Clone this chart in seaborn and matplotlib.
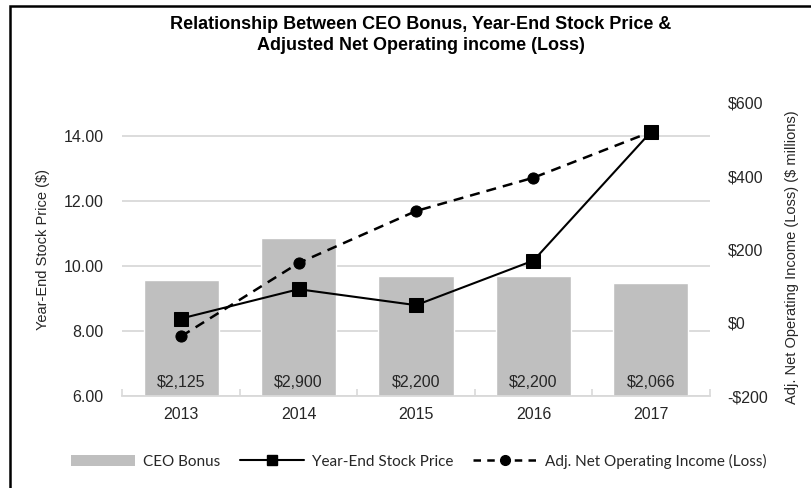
import numpy as np
import pandas as pd
import seaborn as sns
import matplotlib.pyplot as plt
from matplotlib.ticker import MultipleLocator, FuncFormatter
from matplotlib.patches import Rectangle, Patch
from matplotlib.lines import Line2D

years = ["2013", "2014", "2015", "2016", "2017"]
bonus = [2125, 2900, 2200, 2200, 2066]          # CEO bonus ($ thousands)
stock_price = [8.38, 9.28, 8.79, 10.16, 14.11]  # year-end stock price ($)
net_income = [-37, 163, 305, 396, 521]          # adj. net operating income ($ millions)

df = pd.DataFrame({"year": years, "pos": range(len(years)),
                   "bonus": bonus, "stock": stock_price, "income": net_income})

sns.set_theme(style="white")
plt.rcParams['font.family'] = ['Liberation Sans Narrow', 'Liberation Sans', 'DejaVu Sans']
txt = '#262626'
grid_c = '#d9d9d9'

fig = plt.figure(figsize=(8.11, 4.88), dpi=100)
axb = fig.add_axes([0.151, 0.1885, 0.724, 0.6005])
ax2 = axb.twinx()
ax = axb.twinx()

# bars on a hidden axis (bottom layer, carries the gridlines)
bonus_top = 5375
sns.barplot(data=df, x="year", y="bonus", color="#bfbfbf", saturation=1,
            width=0.64, errorbar=None, ax=axb)
axb.set_ylim(0, bonus_top)
axb.yaxis.set_major_locator(MultipleLocator(bonus_top * 2 / 9))
axb.grid(axis='y', color=grid_c, lw=1.3)
axb.set_axisbelow(True)
axb.tick_params(axis='y', left=False, labelleft=False)
axb.set_xlabel("")
axb.set_ylabel("")
for s in ['top', 'right', 'left']:
    axb.spines[s].set_visible(False)
axb.spines['bottom'].set_color(grid_c)
axb.spines['bottom'].set_linewidth(1.3)
axb.set_xticks(np.arange(-0.5, len(years), 1), minor=True)
axb.tick_params(axis='x', which='minor', bottom=True, direction='in', length=5,
                color=grid_c, width=1.2)
axb.tick_params(axis='x', which='major', length=0, pad=8, labelsize=11.5, labelcolor=txt)
for i, b in enumerate(bonus):
    axb.text(i, 0.045, f"${b:,}", transform=axb.get_xaxis_transform(),
             ha='center', va='center', fontsize=11.5, color=txt)

# net operating income (right axis, dashed)
sns.lineplot(data=df, x="pos", y="income", ax=ax2, color="black", marker="o",
             markersize=8, markeredgecolor="black", linewidth=1.8)
ax2.lines[0].set_dashes([4, 2.8])
ax2.set_ylim(-200, 600)
ax2.yaxis.set_major_locator(MultipleLocator(200))
ax2.yaxis.set_major_formatter(FuncFormatter(lambda v, p: f"-${abs(v):.0f}" if v < 0 else f"${v:.0f}"))
ax2.tick_params(axis='y', right=False, length=0, pad=13, labelsize=11.5, labelcolor=txt)
ax2.set_ylabel("Adj. Net Operating Income (Loss) ($ millions)", fontsize=10.5, color=txt)
ax2.yaxis.set_label_coords(1.128, 0.475)
ax2.set_xlabel("")

# year-end stock price (left axis, solid)
sns.lineplot(data=df, x="pos", y="stock", ax=ax, color="black", marker="s",
             markersize=9.5, markeredgecolor="black", linewidth=1.5)
ax.yaxis.tick_left()
ax.yaxis.set_label_position('left')
ax.set_ylim(6, 15)
ax.set_yticks([6, 8, 10, 12, 14])
ax.yaxis.set_major_formatter(FuncFormatter(lambda v, p: f"{v:.2f}"))
ax.tick_params(axis='y', left=False, right=False, length=0, pad=13.5, labelsize=11.5, labelcolor=txt)
ax.set_ylabel("Year-End Stock Price ($)", fontsize=10.5, color=txt)
ax.yaxis.set_label_coords(-0.124, 0.5)
ax.set_xlabel("")

for a in (ax, ax2):
    a.patch.set_visible(False)
    for s in a.spines.values():
        s.set_visible(False)
axb.set_zorder(0)
ax2.set_zorder(1)
ax.set_zorder(2)
axb.set_xlim(-0.5, len(years) - 0.5)

fig.text(0.519, 0.928,
         "Relationship Between CEO Bonus, Year-End Stock Price &\nAdjusted Net Operating income (Loss)",
         ha='center', va='center', fontsize=13, fontweight='bold', color='black',
         linespacing=1.35)

handles = [
    Patch(facecolor="#bfbfbf", edgecolor="none"),
    Line2D([], [], color="black", lw=1.5, marker="s", markersize=7.5),
    Line2D([], [], color="black", lw=1.8, marker="o", markersize=7, dashes=[3, 2.5]),
]
labels = ["CEO Bonus", "Year-End Stock Price", "Adj. Net Operating Income (Loss)"]
fig.legend(handles, labels, loc='center', bbox_to_anchor=(0.516, 0.055), ncol=3,
           frameon=False, prop={'family': ['Lato', 'DejaVu Sans'], 'size': 11},
           handlelength=4.2, columnspacing=1.3, handletextpad=0.5, labelcolor=txt)

fig.patches.append(Rectangle((10 / 811, -0.05), 1.1, 1.05 - 6 / 488,
                             transform=fig.transFigure, fill=False,
                             edgecolor='black', lw=1.8))

fig.savefig("out.png", dpi=100)
